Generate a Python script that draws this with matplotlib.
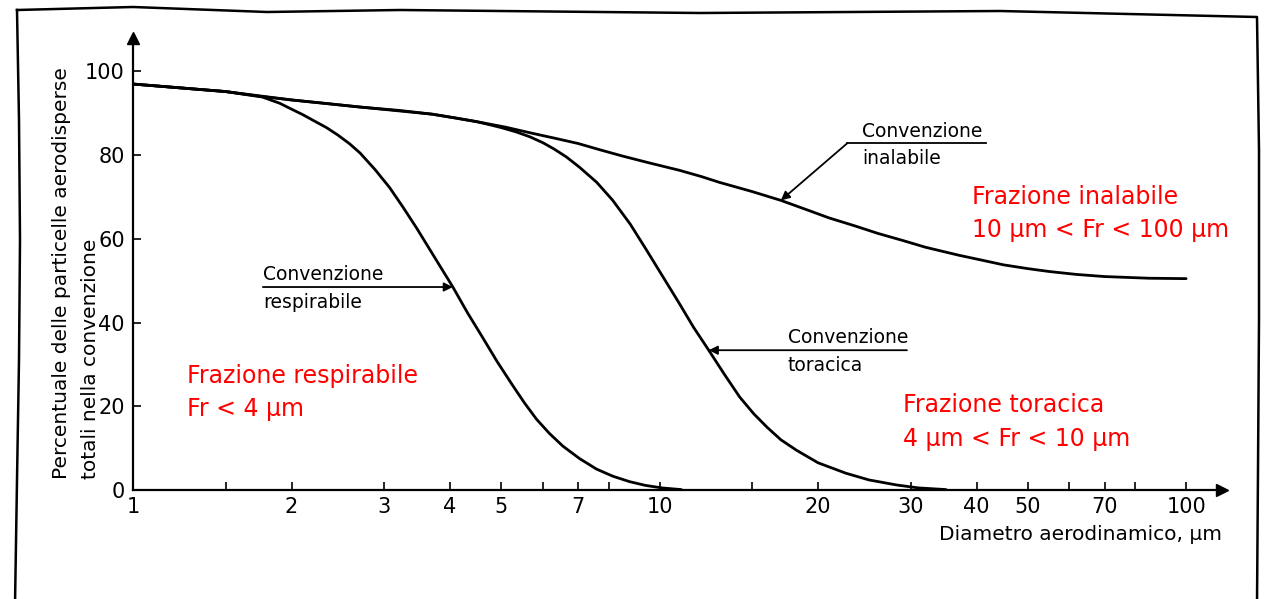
import numpy as np
import matplotlib.pyplot as plt
from matplotlib.lines import Line2D

# diametro aerodinamico (um) e percentuali
inh_d = [1, 1.5, 1.76, 2, 2.35, 2.7, 3.2, 3.7, 4.1, 4.5, 5.1, 5.7, 6.3, 7, 7.7, 8.5, 9.6, 10.9,
         12, 13, 15, 17, 19, 21, 23.5, 26, 29, 32, 37, 41, 45, 50, 55, 62, 70, 85, 100]
inh_v = [97.0, 95.2, 94.0, 93.2, 92.3, 91.5, 90.7, 89.8, 88.9, 88.0, 86.7, 85.3, 84.1, 82.8,
         81.3, 79.8, 78.1, 76.4, 74.9, 73.5, 71.3, 69.2, 67.0, 65.0, 63.1, 61.3, 59.6, 58.0,
         56.1, 54.9, 53.8, 52.9, 52.2, 51.5, 51.0, 50.6, 50.5]

resp_d = [1, 1.5, 1.76, 1.9, 2.0, 2.1, 2.2, 2.33, 2.45, 2.58, 2.7, 2.88, 3.07, 3.26, 3.46,
          3.66, 3.85, 4.05, 4.32, 4.61, 4.92, 5.26, 5.54, 5.84, 6.18, 6.55, 7.05, 7.59, 8.15,
          8.77, 9.4, 10.1, 11]
resp_v = [97.0, 95.2, 93.9, 92.4, 91.0, 89.7, 88.3, 86.6, 84.8, 82.7, 80.5, 76.6, 72.3, 67.5,
          62.5, 57.5, 53.0, 48.5, 42.3, 36.5, 30.6, 25.0, 20.8, 16.9, 13.5, 10.5, 7.5, 5.0,
          3.3, 2.0, 1.1, 0.5, 0.1]

thor_d = [1, 1.5, 2, 2.7, 3.7, 4.5, 4.75, 5, 5.33, 5.67, 6.0, 6.3, 6.65, 7.05, 7.6, 8.15, 8.8,
          9.45, 10.2, 10.9, 11.6, 12.4, 13.3, 14.2, 15.1, 16, 17, 18.2, 20, 22.6, 25, 28.2,
          31, 35]
thor_v = [97.0, 95.2, 93.2, 91.5, 89.8, 88.0, 87.3, 86.6, 85.6, 84.4, 83.0, 81.5, 79.6, 77.1,
          73.5, 69.2, 63.5, 57.3, 50.5, 44.6, 38.9, 33.4, 27.5, 22.2, 18.2, 15.0, 12.0, 9.5,
          6.5, 4.0, 2.4, 1.2, 0.5, 0.1]

x_major = [1, 2, 3, 4, 5, 7, 10, 20, 30, 40, 50, 70, 100]
x_minor = [1.5, 6, 8, 15, 60, 80]
y_major = [0, 20, 40, 60, 80, 100]

W, H = 1273, 599
fig = plt.figure(figsize=(W / 100, H / 100), dpi=100)


def fx(px):
    return px / W


def fy(py):
    return 1 - py / H


narrow = ['Liberation Sans Narrow', 'DejaVu Sans']

ax = fig.add_axes([fx(133), fy(490), fx(1222) - fx(133), fy(38) - fy(490)])
ax.set_xscale('log')
ax.set_xlim(1, 117)
ax.set_ylim(0, 108)

lw = 2.0
ax.plot(inh_d, inh_v, color='black', lw=lw, solid_capstyle='round', solid_joinstyle='round')
ax.plot(resp_d, resp_v, color='black', lw=lw, solid_capstyle='round', solid_joinstyle='round')
ax.plot(thor_d, thor_v, color='black', lw=lw, solid_capstyle='round', solid_joinstyle='round')

for s in ['top', 'right']:
    ax.spines[s].set_visible(False)
for s in ['left', 'bottom']:
    ax.spines[s].set_linewidth(1.6)

# frecce sugli assi
ax.plot(1, 0, '>', color='black', ms=8, transform=ax.transAxes, clip_on=False)
ax.plot(0, 1, '^', color='black', ms=8, transform=ax.transAxes, clip_on=False)

ax.set_xticks(x_major)
ax.set_xticklabels([str(v) for v in x_major])
ax.set_xticks(x_minor, minor=True)
ax.xaxis.set_minor_formatter(plt.NullFormatter())
ax.set_yticks(y_major)
ax.set_yticklabels([str(v) for v in y_major])
ax.tick_params(which='both', direction='in', length=6, width=1.2, labelsize=15, pad=5)
ax.tick_params(axis='y', pad=6)
for lab in ax.get_xticklabels() + ax.get_yticklabels():
    lab.set_family(narrow)

fig.text(fx(62), fy(479), 'Percentuale delle particelle aerodisperse', rotation=90,
         ha='center', va='bottom', fontsize=14.5)
fig.text(fx(91), fy(479), 'totali nella convenzione', rotation=90,
         ha='center', va='bottom', fontsize=14.5)
fig.text(fx(1222), fy(535), 'Diametro aerodinamico, μm', ha='right', va='center', fontsize=14.5)

arrow = dict(arrowstyle='-|>', lw=1.3, color='black', mutation_scale=13, shrinkA=0, shrinkB=0)
afont = dict(fontsize=13.5, color='black')

# convenzione respirabile
i = resp_d.index(4.05)
ax.annotate('', xy=(resp_d[i], resp_v[i]), xytext=(1.765, resp_v[i]), arrowprops=arrow)
ax.annotate('Convenzione', xy=(1.765, resp_v[i]), xytext=(0, 2), textcoords='offset points',
            ha='left', va='bottom', **afont)
ax.annotate('respirabile', xy=(1.765, resp_v[i]), xytext=(0, -4), textcoords='offset points',
            ha='left', va='top', **afont)

# convenzione toracica
i = thor_d.index(12.4)
ax.annotate('', xy=(thor_d[i], thor_v[i]), xytext=(29.5, thor_v[i]), arrowprops=arrow)
ax.annotate('Convenzione', xy=(17.5, thor_v[i]), xytext=(0, 2), textcoords='offset points',
            ha='left', va='bottom', **afont)
ax.annotate('toracica', xy=(17.5, thor_v[i]), xytext=(0, -4), textcoords='offset points',
            ha='left', va='top', **afont)

# convenzione inalabile
i = inh_d.index(17)
ax.annotate('', xy=(inh_d[i], inh_v[i]), xytext=(22.7, 82.8), arrowprops=arrow)
ax.plot([22.7, 41.6], [82.8, 82.8], color='black', lw=1.3)
ax.annotate('Convenzione', xy=(22.7, 82.8), xytext=(11, 2), textcoords='offset points',
            ha='left', va='bottom', **afont)
ax.annotate('inalabile', xy=(22.7, 82.8), xytext=(11, -4), textcoords='offset points',
            ha='left', va='top', **afont)

# etichette rosse
rfont = dict(fontsize=17, color='#ff0000', ha='left', va='baseline', linespacing=1.5)
fig.text(fx(187), fy(416), 'Frazione respirabile\nFr < 4 μm', **rfont)
fig.text(fx(903), fy(446), 'Frazione toracica\n4 μm < Fr < 10 μm', **rfont)
fig.text(fx(972), fy(237), 'Frazione inalabile\n10 μm < Fr < 100 μm', **rfont)

# cornice disegnata a mano
bx = [17, 133, 267, 400, 700, 1000, 1257, 1259, 1259, 1258, 1257]
by = [10, 7, 12, 10, 13, 11, 17, 150, 320, 470, 605]
fig.add_artist(Line2D([fx(v) for v in bx], [fy(v) for v in by], color='black', lw=1.8))
lx = [17, 19, 20, 19, 17, 15]
ly = [10, 120, 240, 360, 480, 605]
fig.add_artist(Line2D([fx(v) for v in lx], [fy(v) for v in ly], color='black', lw=1.8))

fig.savefig('out.png', dpi=100)
